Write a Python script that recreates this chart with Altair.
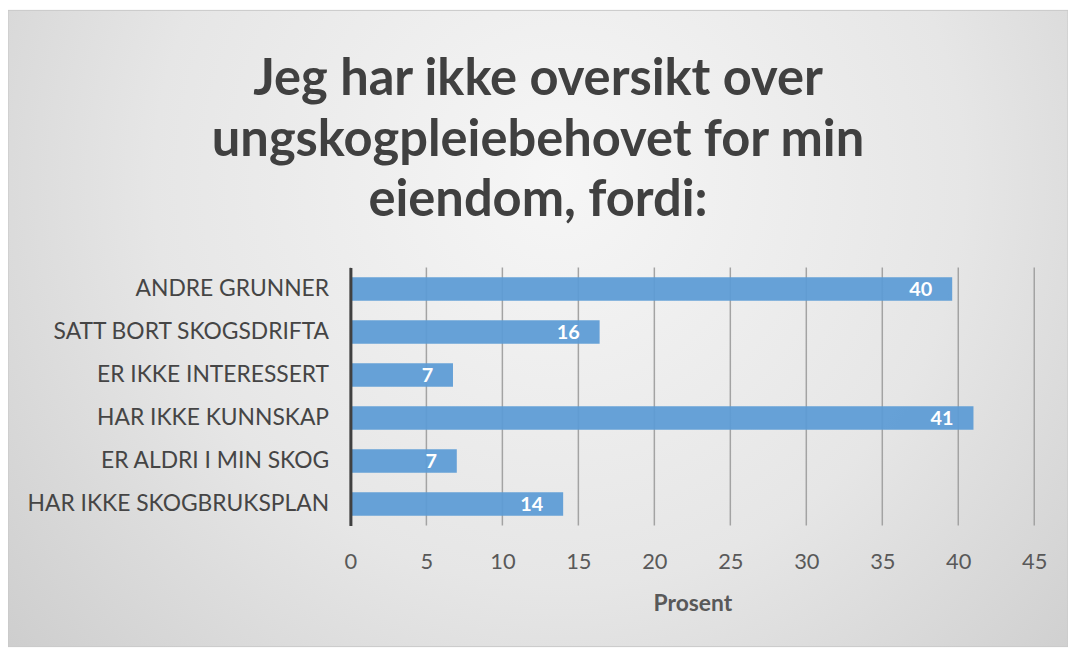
import altair as alt
import pandas as pd

categories = ["ANDRE GRUNNER", "SATT BORT SKOGSDRIFTA", "ER IKKE INTERESSERT",
              "HAR IKKE KUNNSKAP", "ER ALDRI I MIN SKOG", "HAR IKKE SKOGBRUKSPLAN"]
values = [39.6, 16.4, 6.75, 41.0, 7.0, 14.0]
labels = ["40", "16", "7", "41", "7", "14"]
tick_values = [0, 5, 10, 15, 20, 25, 30, 35, 40, 45]
title_lines = ["Jeg har ikke oversikt over", "ungskogpleiebehovet for min", "eiendom, fordi:"]

df = pd.DataFrame({"cat": categories, "val": values, "lab": labels})
grid_df = pd.DataFrame({"t": tick_values})
bg_df = pd.DataFrame({"k": [1]})

W, H = 689, 260
PAD_L, PAD_T, PAD_R, PAD_B = 345, 259, 34, 122
FONT = "Lato"

xscale = alt.Scale(domain=[0, 45], nice=False, zero=True)
yscale = alt.Scale(domain=categories, paddingInner=0.45, paddingOuter=0.225)

bg = alt.Chart(bg_df).mark_rect(
    fill=alt.Gradient(
        gradient="radial",
        stops=[alt.GradientStop(offset=0, color="#f6f6f6"),
               alt.GradientStop(offset=0.45, color="#e6e6e6"),
               alt.GradientStop(offset=1, color="#c0c0c0")],
        x1=0.52, y1=0.36, r1=0.0, x2=0.52, y2=0.36, r2=0.85),
    stroke="#c8c8c8", strokeWidth=1
).encode(
    x=alt.value(-PAD_L), x2=alt.value(W + PAD_R),
    y=alt.value(-PAD_T), y2=alt.value(H + PAD_B)
)

grid = alt.Chart(grid_df).mark_rule(color="#a3a3a3", strokeWidth=1.5).encode(
    x=alt.X("t:Q", scale=xscale)
)

bars = alt.Chart(df).mark_bar(color="#5b9bd5", opacity=0.93).encode(
    x=alt.X("val:Q", scale=xscale, title="Prosent",
            axis=alt.Axis(values=tick_values, grid=False, domain=False, ticks=False,
                          labelFlush=False,
                          labelFont=FONT, labelFontSize=22, labelColor="#595959",
                          labelPadding=26, titleFont=FONT, titleFontSize=23,
                          titleFontWeight="bold", titleColor="#595959",
                          titlePadding=21, zindex=1)),
    y=alt.Y("cat:N", scale=yscale, sort=categories, title=None,
            axis=alt.Axis(domain=True, domainColor="#404040", domainWidth=3,
                          ticks=False, labelFont=FONT, labelFontSize=23,
                          labelColor="#454545", labelPadding=22, labelLimit=400,
                          zindex=1))
)

text = alt.Chart(df).mark_text(
    align="right", baseline="middle", dx=-20, dy=1, color="white",
    font=FONT, fontSize=20, fontWeight="bold"
).encode(
    x=alt.X("val:Q", scale=xscale),
    y=alt.Y("cat:N", scale=yscale, sort=categories),
    text="lab:N"
)

chart = alt.layer(bg, grid, bars, text).properties(
    width=W, height=H,
    title=alt.TitleParams(text=title_lines, font=FONT, fontSize=51, fontWeight="bold",
                          color="#404040", lineHeight=61, anchor="middle",
                          frame="bounds", offset=-219),
    padding={"left": PAD_L, "top": PAD_T, "right": PAD_R, "bottom": PAD_B},
    autosize=alt.AutoSizeParams(type="none")
).configure_view(stroke=None).configure(background="white")

chart.save("out.html", embed_options={"renderer": "svg", "actions": False})
